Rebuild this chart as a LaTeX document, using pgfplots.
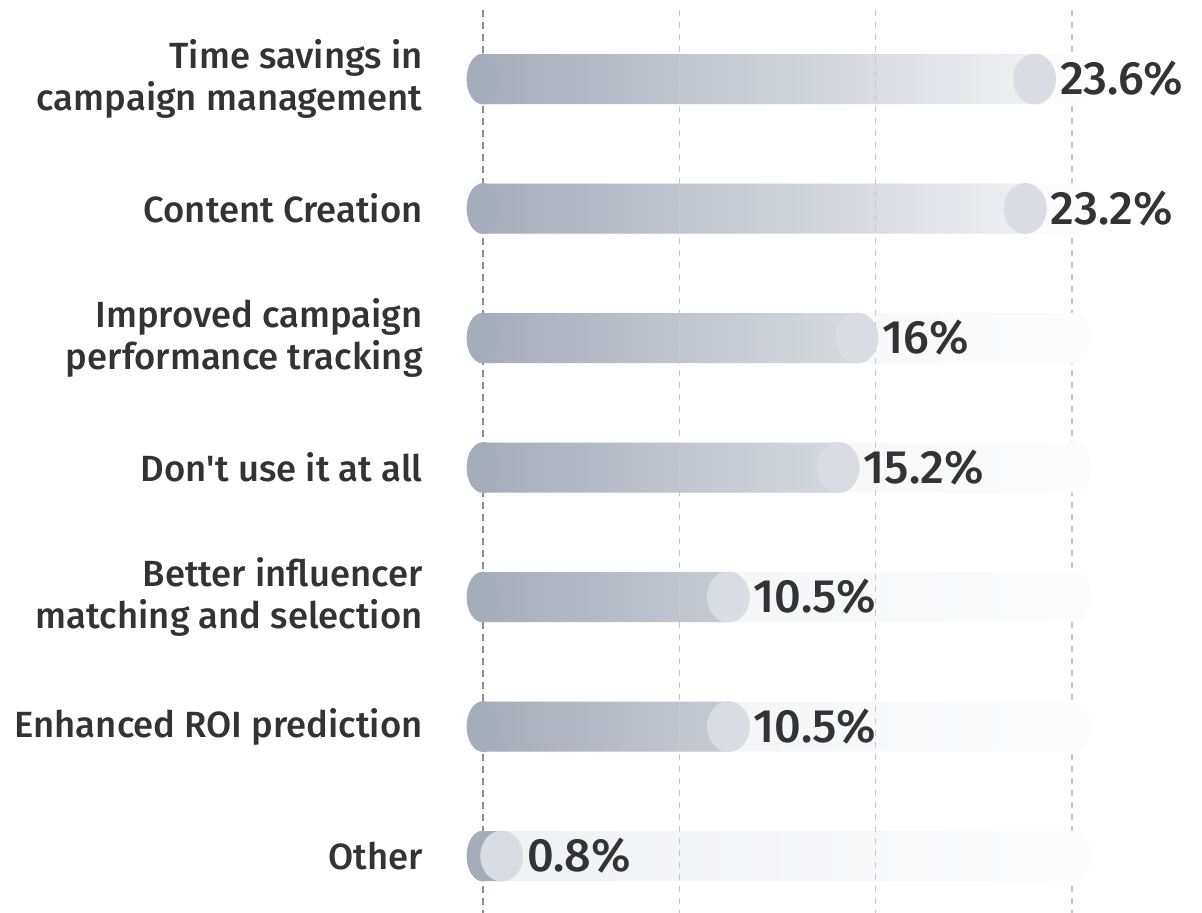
\documentclass[border=0pt]{standalone}
\usepackage{pgfplots}
\pgfplotsset{compat=1.18}
\usepackage{pgfplotstable}
\usepackage{fontspec}
\setmainfont{Fira Sans}[UprightFont=* Medium, Ligatures=TeXOff]

\definecolor{barL}{HTML}{A6ADBA}
\definecolor{barR}{HTML}{EEF0F2}
\definecolor{circ}{HTML}{D9DCE2}
\definecolor{trackL}{HTML}{F0F1F3}
\definecolor{trackR}{HTML}{FCFCFD}
\definecolor{gridgray}{HTML}{C8C8C8}
\definecolor{axisgray}{HTML}{8E8E8E}
\definecolor{txt}{HTML}{333333}

% share of respondents, top row first
\pgfplotstableread{
i v
0 23.6
1 23.2
2 16
3 15.2
4 10.5
5 10.5
6 0.8
}\share

\begin{document}
\begin{tikzpicture}
\path[use as bounding box] (-241.5bp,0) rectangle (359.5bp,456.5bp);
\begin{axis}[
  at={(0,0)}, anchor=south west,
  scale only axis, width=294.5bp, height=451.3bp,
  xmin=0, xmax=25.2, ymin=-0.53, ymax=6.44, y dir=reverse,
  axis line style={draw=none}, major tick length=0pt,
  xtick={8.4,16.8,25.2}, xticklabels={},
  xmajorgrids,
  grid style={dash pattern=on 3bp off 3bp, line width=0.8bp, color=gridgray},
  extra x ticks={0}, extra x tick labels={},
  extra x tick style={xmajorgrids=true,
    grid style={dash pattern=on 3.5bp off 2.5bp, line width=0.8bp, color=axisgray}},
  ytick={0,...,6},
  yticklabels={{Time savings in\\campaign management}, {Content Creation},
    {Improved campaign\\performance tracking}, {Don't use it at all},
    {Better influencer\\matching and selection}, {Enhanced ROI prediction}, {Other}},
  yticklabel style={align=right, font=\fontsize{18.3}{21}\selectfont, text=txt,
    inner sep=0pt, xshift=-30bp},
  axis on top, clip=false,
  every mark/.append style={line width=0pt},
]
% background tracks
\addplot[xbar, bar width=25bp, bar shift=0pt, draw=none, left color=trackL, right color=trackR]
  coordinates {(25.3,0)(25.3,1)(25.3,2)(25.3,3)(25.3,4)(25.3,5)(25.3,6)};
\addplot[color=trackR, only marks, mark=*, mark size=12.5bp, mark options={xscale=0.64}]
  coordinates {(25.3,0)(25.3,1)(25.3,2)(25.3,3)(25.3,4)(25.3,5)(25.3,6)};
% left caps
\addplot[color=barL, only marks, mark=*, mark size=12.5bp, mark options={xscale=0.64}]
  coordinates {(0,0)(0,1)(0,2)(0,3)(0,4)(0,5)(0,6)};
% value bars
\addplot[xbar, bar width=25bp, bar shift=0pt, draw=none, left color=barL, right color=barR]
  table[x=v, y=i] {\share};
% end knobs + labels
\addplot[color=circ, only marks, mark=*, mark size=12.5bp, mark options={xscale=0.84},
  point meta=explicit symbolic, nodes near coords={\pgfplotspointmeta\%},
  nodes near coords style={anchor=west, xshift=12.5bp, inner sep=0pt, text=txt,
    font=\fontsize{23.5}{28}\selectfont}]
  table[x=v, y=i, meta=v] {\share};
\end{axis}
\end{tikzpicture}
\end{document}
